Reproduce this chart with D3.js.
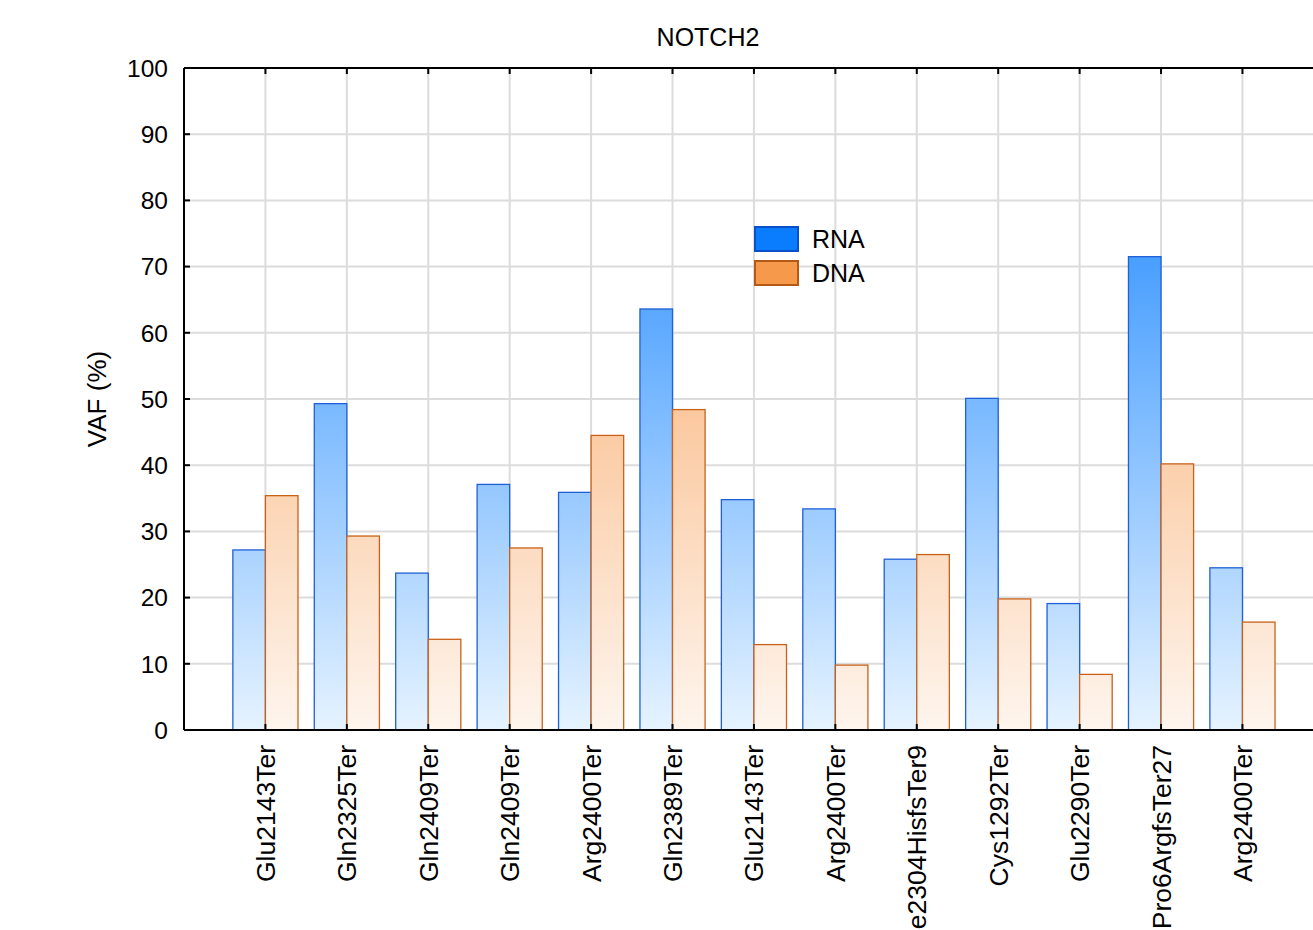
<!DOCTYPE html>
<html>
<head>
<meta charset="utf-8">
<script src="https://cdn.jsdelivr.net/npm/d3@7"></script>
<style>
  body { margin: 0; background: #fff; }
  svg { display: block; font-family: "Liberation Sans", Arial, sans-serif; }
</style>
</head>
<body>
<div id="chart"></div>
<script>
// Data
var title = "NOTCH2";
var categories = ["Glu2143Ter", "Gln2325Ter", "Gln2409Ter", "Gln2409Ter", "Arg2400Ter", "Gln2389Ter",
    "Glu2143Ter", "Arg2400Ter", "Ile2304HisfsTer9", "Cys1292Ter", "Glu2290Ter", "Pro6ArgfsTer27", "Arg2400Ter"];
var rnaValues = [27.2, 49.3, 23.7, 37.1, 35.9, 63.6, 34.8, 33.4, 25.8, 50.1, 19.1, 71.5, 24.5];
var dnaValues = [35.4, 29.3, 13.7, 27.5, 44.5, 48.4, 12.9, 9.8, 26.5, 19.8, 8.4, 40.2, 16.3];
var yTicks = [0, 10, 20, 30, 40, 50, 60, 70, 80, 90, 100];
var seriesNames = ["RNA", "DNA"];

var width = 1313, height = 930;
var margin = { left: 184, top: 68, bottom: 200 };
var plotW = 81.42 * 14;
var plotH = height - margin.top - margin.bottom;

var svg = d3.select("#chart").append("svg")
    .attr("width", width).attr("height", height);

// Gradients (absolute, running along the value axis)
var defs = svg.append("defs");
function gradient(id, top, bottom) {
    var g = defs.append("linearGradient").attr("id", id)
        .attr("gradientUnits", "userSpaceOnUse")
        .attr("x1", 0).attr("x2", 0)
        .attr("y1", margin.top).attr("y2", margin.top + plotH);
    g.append("stop").attr("offset", "0%").attr("stop-color", top);
    g.append("stop").attr("offset", "100%").attr("stop-color", bottom);
}
gradient("gradRna", "#0a7dff", "#e6f3ff");
gradient("gradDna", "#f7994a", "#fef5ee");

// Scales
var x = d3.scaleLinear().domain([0, 14]).range([margin.left, margin.left + plotW]);
var y = d3.scaleLinear().domain([0, 100]).range([margin.top + plotH, margin.top]);
var barW = 81.42 * 0.4;

// Grid
var grid = svg.append("g").attr("stroke", "#dcdcdc").attr("stroke-width", 2);
grid.selectAll(".gy").data(yTicks.slice(1, -1)).enter().append("line")
    .attr("x1", margin.left).attr("x2", margin.left + plotW)
    .attr("y1", function(d) { return y(d); }).attr("y2", function(d) { return y(d); });
grid.selectAll(".gx").data(categories).enter().append("line")
    .attr("x1", function(d, i) { return x(i + 1); }).attr("x2", function(d, i) { return x(i + 1); })
    .attr("y1", margin.top).attr("y2", margin.top + plotH);

// Bars
var bars = svg.append("g");
bars.selectAll(".rna").data(rnaValues).enter().append("rect")
    .attr("class", "rna")
    .attr("x", function(d, i) { return x(i + 1) - barW; })
    .attr("y", function(d) { return y(d); })
    .attr("width", barW)
    .attr("height", function(d) { return y(0) - y(d); })
    .attr("fill", "url(#gradRna)")
    .attr("stroke", "#2060d8").attr("stroke-width", 1.3);
bars.selectAll(".dna").data(dnaValues).enter().append("rect")
    .attr("class", "dna")
    .attr("x", function(d, i) { return x(i + 1); })
    .attr("y", function(d) { return y(d); })
    .attr("width", barW)
    .attr("height", function(d) { return y(0) - y(d); })
    .attr("fill", "url(#gradDna)")
    .attr("stroke", "#c8621a").attr("stroke-width", 1.3);

// Axes
var axisG = svg.append("g").attr("stroke", "#000").attr("stroke-width", 2);
axisG.append("line").attr("x1", margin.left).attr("x2", margin.left)
    .attr("y1", margin.top).attr("y2", margin.top + plotH);
axisG.append("line").attr("x1", margin.left).attr("x2", margin.left + plotW)
    .attr("y1", margin.top).attr("y2", margin.top);
axisG.append("line").attr("x1", margin.left).attr("x2", margin.left + plotW)
    .attr("y1", margin.top + plotH).attr("y2", margin.top + plotH);
axisG.selectAll(".ty").data(yTicks).enter().append("line")
    .attr("x1", margin.left).attr("x2", margin.left + 6)
    .attr("y1", function(d) { return y(d); }).attr("y2", function(d) { return y(d); });
axisG.selectAll(".tt").data(categories).enter().append("line")
    .attr("x1", function(d, i) { return x(i + 1); }).attr("x2", function(d, i) { return x(i + 1); })
    .attr("y1", margin.top).attr("y2", margin.top + 6);
axisG.selectAll(".tb").data(categories).enter().append("line")
    .attr("x1", function(d, i) { return x(i + 1); }).attr("x2", function(d, i) { return x(i + 1); })
    .attr("y1", margin.top + plotH).attr("y2", margin.top + plotH - 6);

// Tick labels
svg.append("g").selectAll("text").data(yTicks).enter().append("text")
    .attr("x", margin.left - 16)
    .attr("y", function(d) { return y(d); })
    .attr("dy", "0.36em")
    .attr("text-anchor", "end")
    .attr("font-size", 24.5)
    .text(function(d) { return d; });

svg.append("g").selectAll("text").data(categories).enter().append("text")
    .attr("transform", function(d, i) {
        return "translate(" + x(i + 1) + "," + (margin.top + plotH + 15) + ") rotate(-90)";
    })
    .attr("dy", "0.36em")
    .attr("text-anchor", "end")
    .attr("font-size", 26.5)
    .text(function(d) { return d; });

// Titles
svg.append("text").attr("x", 708).attr("y", 46)
    .attr("text-anchor", "middle").attr("font-size", 25).text(title);
svg.append("text")
    .attr("transform", "translate(106," + y(50) + ") rotate(-90)")
    .attr("text-anchor", "middle").attr("font-size", 26).text("VAF (%)");

// Legend
var legend = svg.append("g").attr("transform", "translate(755,227)");
var legFill = ["#0a7dff", "#f7994a"];
var legStroke = ["#0b4fc9", "#b55a14"];
var item = legend.selectAll("g").data(seriesNames).enter().append("g")
    .attr("transform", function(d, i) { return "translate(0," + (i * 34) + ")"; });
item.append("rect").attr("width", 43).attr("height", 24)
    .attr("fill", function(d, i) { return legFill[i]; })
    .attr("stroke", function(d, i) { return legStroke[i]; })
    .attr("stroke-width", 2);
item.append("text").attr("x", 57).attr("y", 12).attr("dy", "0.36em")
    .attr("font-size", 25).text(function(d) { return d; });
</script>
</body>
</html>
